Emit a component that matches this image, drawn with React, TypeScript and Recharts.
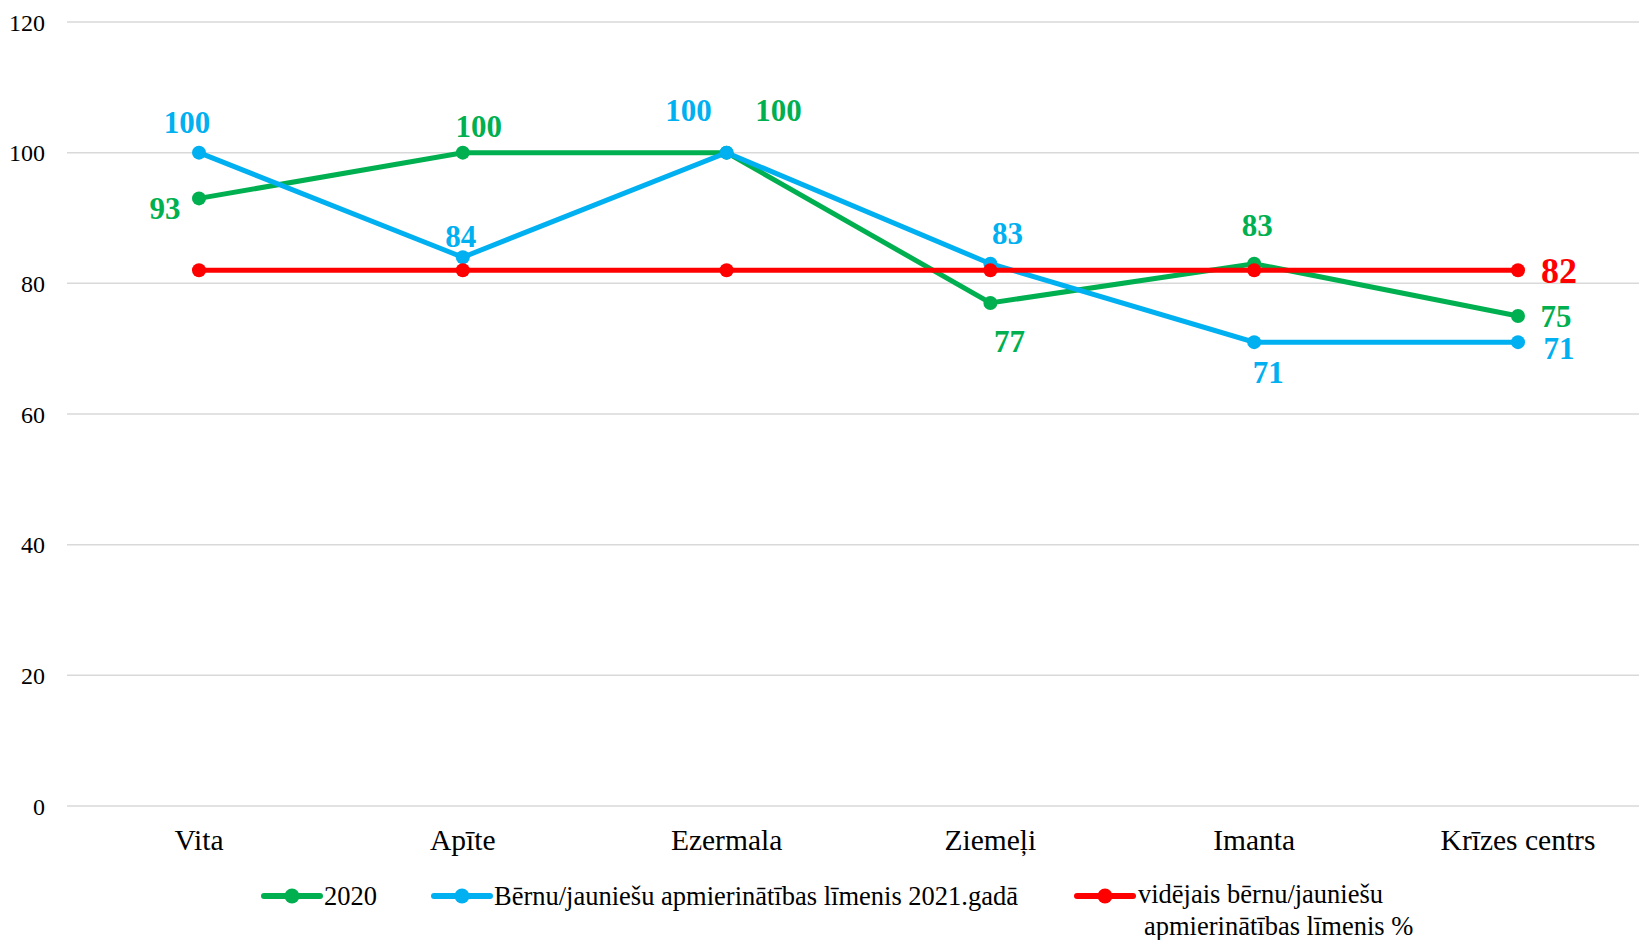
import React from 'react';
import { LineChart, Line, XAxis, YAxis, CartesianGrid, Legend, LabelList } from 'recharts';

const categories = ['Vita', 'Apīte', 'Ezermala', 'Ziemeļi', 'Imanta', 'Krīzes centrs'];
const series2020 = [93, 100, 100, 77, 83, 75];
const series2021 = [100, 84, 100, 83, 71, 71];
const seriesAvg = [82, 82, 82, 82, 82, 82];
const yTicks = [0, 20, 40, 60, 80, 100, 120];
const seriesNames = [
  '2020',
  'Bērnu/jauniešu apmierinātības līmenis 2021.gadā',
  'vidējais bērnu/jauniešu apmierinātības līmenis %',
];

const GREEN = '#00B050';
const BLUE = '#00B0F0';
const RED = '#FF0000';
const FONT = "'Liberation Serif', 'Times New Roman', serif";

const data = categories.map((c, i) => ({
  name: c,
  s2020: series2020[i],
  s2021: series2021[i],
  avg: seriesAvg[i],
}));

// label placement offsets (dx, dy of baseline-center from the point)
const greenOffsets: ([number, number] | null)[] = [[-34, 21], [16, -16], [52, -32], [19, 49], [3, -28], [38, 11]];
const blueOffsets: ([number, number] | null)[] = [[-12, -20], [-2, -10], [-38, -32], [17, -20], [14, 41], [41, 17]];
const redOffsets: ([number, number] | null)[] = [null, null, null, null, null, [41, 13]];

const makeLabel = (offsets: ([number, number] | null)[], color: string, size: number) => (props: any) => {
  const idx = props.index;
  const off = idx !== undefined ? offsets[idx] : null;
  if (!off) return null;
  const x = props.x ?? props.viewBox?.x;
  const y = props.y ?? props.viewBox?.y;
  if (x === undefined || y === undefined) return null;
  return (
    <text
      x={x + off[0]}
      y={y + off[1]}
      textAnchor="middle"
      fill={color}
      fontFamily={FONT}
      fontWeight="bold"
      fontSize={size}
    >
      {props.value}
    </text>
  );
};

const renderLegend = () => {
  const item = (lineX: number, color: string) => (
    <g>
      <line x1={lineX} x2={lineX + 56} y1={26} y2={26} stroke={color} strokeWidth={6} strokeLinecap="round" />
      <circle cx={lineX + 28} cy={26} r={7.5} fill={color} />
    </g>
  );
  return (
    <svg width={1639} height={70} style={{ display: 'block' }}>
      {item(264, GREEN)}
      <text x={324} y={35} fontFamily={FONT} fontSize={26.5} fill="#000">{seriesNames[0]}</text>
      {item(434, BLUE)}
      <text x={494} y={35} fontFamily={FONT} fontSize={26.5} fill="#000">{seriesNames[1]}</text>
      {item(1077, RED)}
      <text fontFamily={FONT} fontSize={26.5} fill="#000">
        <tspan x={1138} y={33}>vidējais bērnu/jauniešu</tspan>
        <tspan x={1144} y={65}>apmierinātības līmenis %</tspan>
      </text>
    </svg>
  );
};

export default function App() {
  return (
    <div
      style={{
        position: 'absolute',
        left: 0,
        top: 0,
        width: 1639,
        height: 940,
        overflow: 'hidden',
        background: '#fff',
      }}
    >
      <LineChart
        width={1660}
        height={940}
        data={data}
        margin={{ top: 22, right: 10, left: 7, bottom: 0 }}
      >
        <CartesianGrid vertical={false} stroke="#D9D9D9" strokeWidth={1.5} />
        <XAxis
          dataKey="name"
          height={64}
          padding={{ left: 132, right: 132 }}
          axisLine={false}
          tickLine={false}
          tickMargin={17}
          interval={0}
          tick={{ fontSize: 29.5, fill: '#000', fontFamily: FONT }}
        />
        <YAxis
          width={60}
          domain={[0, 120]}
          ticks={yTicks}
          axisLine={false}
          tickLine={false}
          tickMargin={16}
          tick={{ fontSize: 24, fill: '#000', fontFamily: FONT }}
        />
        <Legend verticalAlign="bottom" height={70} content={renderLegend} wrapperStyle={{ left: 0, bottom: 0, width: 1639, height: 70 }} />
        <Line
          dataKey="s2020"
          name={seriesNames[0]}
          stroke={GREEN}
          strokeWidth={5}
          dot={{ r: 7, fill: GREEN, stroke: GREEN, strokeWidth: 0 }}
          activeDot={false}
          isAnimationActive={false}
        >
          <LabelList dataKey="s2020" content={makeLabel(greenOffsets, GREEN, 31)} />
        </Line>
        <Line
          dataKey="s2021"
          name={seriesNames[1]}
          stroke={BLUE}
          strokeWidth={5}
          dot={{ r: 7, fill: BLUE, stroke: BLUE, strokeWidth: 0 }}
          activeDot={false}
          isAnimationActive={false}
        >
          <LabelList dataKey="s2021" content={makeLabel(blueOffsets, BLUE, 31)} />
        </Line>
        <Line
          dataKey="avg"
          name={seriesNames[2]}
          stroke={RED}
          strokeWidth={5}
          dot={{ r: 7, fill: RED, stroke: RED, strokeWidth: 0 }}
          activeDot={false}
          isAnimationActive={false}
        >
          <LabelList dataKey="avg" content={makeLabel(redOffsets, RED, 36)} />
        </Line>
      </LineChart>
    </div>
  );
}
